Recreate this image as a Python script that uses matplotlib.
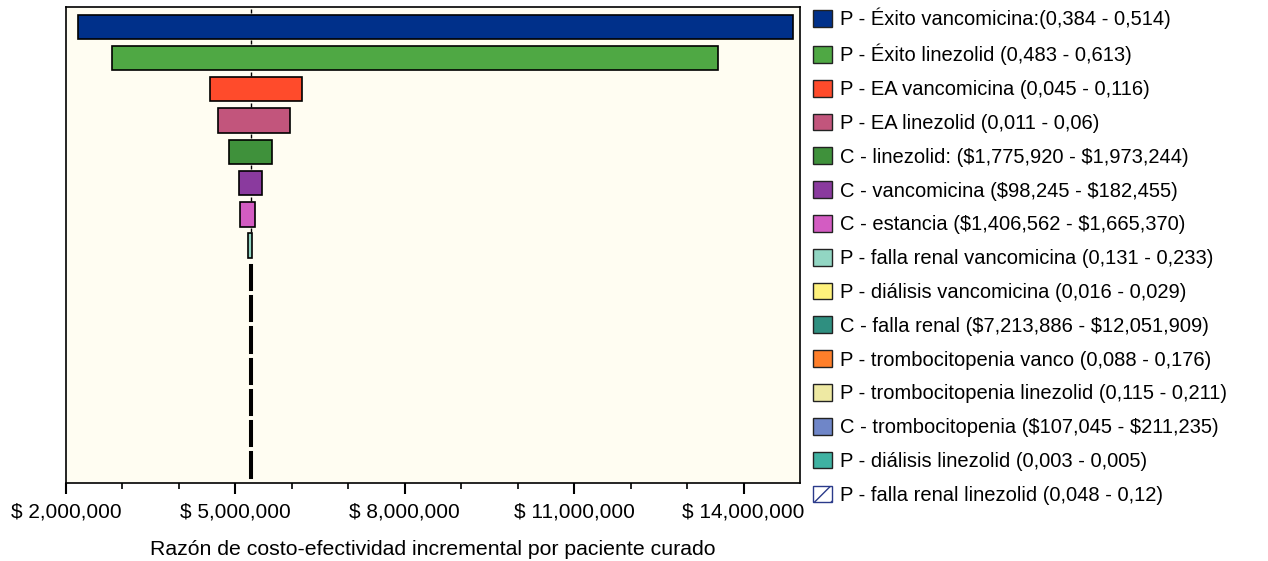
import matplotlib.pyplot as plt
from matplotlib.patches import Patch
from matplotlib.ticker import FuncFormatter, FixedLocator

plt.rcParams['font.family'] = ['Liberation Sans', 'DejaVu Sans']
plt.rcParams['text.parse_math'] = False  # los "$" son texto normal

# Etiquetas de cada parámetro (de arriba hacia abajo)
etiquetas = [
    'P - Éxito vancomicina:(0,384 - 0,514)',
    'P - Éxito linezolid (0,483 - 0,613)',
    'P - EA vancomicina (0,045 - 0,116)',
    'P - EA linezolid (0,011 - 0,06)',
    'C - linezolid: ($1,775,920 - $1,973,244)',
    'C - vancomicina ($98,245 - $182,455)',
    'C - estancia ($1,406,562 - $1,665,370)',
    'P - falla renal vancomicina (0,131 - 0,233)',
    'P - diálisis vancomicina (0,016 - 0,029)',
    'C - falla renal ($7,213,886 - $12,051,909)',
    'P - trombocitopenia vanco (0,088 - 0,176)',
    'P - trombocitopenia linezolid (0,115 - 0,211)',
    'C - trombocitopenia ($107,045 - $211,235)',
    'P - diálisis linezolid (0,003 - 0,005)',
    'P - falla renal linezolid (0,048 - 0,12)',
]

# Valores mínimo y máximo del ICER para cada parámetro
icer_min = [2.21e6, 2.81e6, 4.55e6, 4.70e6, 4.88e6, 5.06e6, 5.09e6, 5.22e6,
            5.26e6, 5.26e6, 5.26e6, 5.26e6, 5.26e6, 5.26e6, 5.26e6]
icer_max = [14.87e6, 13.54e6, 6.18e6, 5.97e6, 5.65e6, 5.48e6, 5.34e6, 5.29e6,
            5.28e6, 5.28e6, 5.28e6, 5.28e6, 5.28e6, 5.28e6, 5.28e6]
caso_base = 5.27e6

ticks_x = [2e6, 5e6, 8e6, 11e6, 14e6]
ticks_menores = [3e6, 4e6, 6e6, 7e6, 9e6, 10e6, 12e6, 13e6]

colores = ['#00308a', '#4fa844', '#ff4b2b', '#c2557c', '#3f913b', '#8a3a9e',
           '#d35cc2', '#92d6c3', '#fff27c', '#2f8f80', '#ff7f2a', '#eee9a3',
           '#6f86c8', '#3fb2a2', '#ffffff']

fig = plt.figure(figsize=(12.68, 5.61), dpi=100)
ax = fig.add_axes([0.052, 0.139, 0.579, 0.8485])
ax.set_facecolor('#fffdf2')

filas = list(range(len(etiquetas)))
anchos = [hi - lo for lo, hi in zip(icer_min, icer_max)]
for i in filas:
    ancho_borde = 1.2 if i < 8 else 2.2
    ax.barh(i, anchos[i], left=icer_min[i], height=0.78, color=colores[i],
            edgecolor='black', linewidth=ancho_borde)

# marcas pequeñas del caso base entre las barras
ax.plot([caso_base] * 8, [i - 0.5 for i in range(8)], marker='|', markersize=3,
        color='black', linestyle='none')

ax.set_ylim(len(etiquetas) - 1 + 0.59, -0.63)
ax.set_xlim(2.0e6, 15.0e6)
ax.set_yticks([])
ax.xaxis.set_major_locator(FixedLocator(ticks_x))
ax.xaxis.set_minor_locator(FixedLocator(ticks_menores))
ax.xaxis.set_major_formatter(FuncFormatter(lambda v, p: '$ {:,.0f}'.format(v)))
ax.tick_params(axis='x', which='major', length=8, width=1.5, labelsize=15, pad=6)
ax.tick_params(axis='x', which='minor', length=4.5, width=1.2)
for s in ax.spines.values():
    s.set_linewidth(1.2)
ax.set_xlabel('Razón de costo-efectividad incremental por paciente curado',
              fontsize=15.3, labelpad=13)

handles = []
for i in filas:
    if i == len(etiquetas) - 1:
        handles.append(Patch(facecolor='white', edgecolor='#2a3a8a', hatch='//',
                             linewidth=1.0))
    else:
        handles.append(Patch(facecolor=colores[i], edgecolor='#222222', linewidth=1.0))
fig.legend(handles, etiquetas, loc='upper left', bbox_to_anchor=(0.641, 0.986),
           frameon=False, fontsize=14.5, handlelength=0.95, handleheight=0.9,
           handletextpad=0.4, labelspacing=0.72, borderaxespad=0, borderpad=0)

fig.savefig('out.png', dpi=100)
